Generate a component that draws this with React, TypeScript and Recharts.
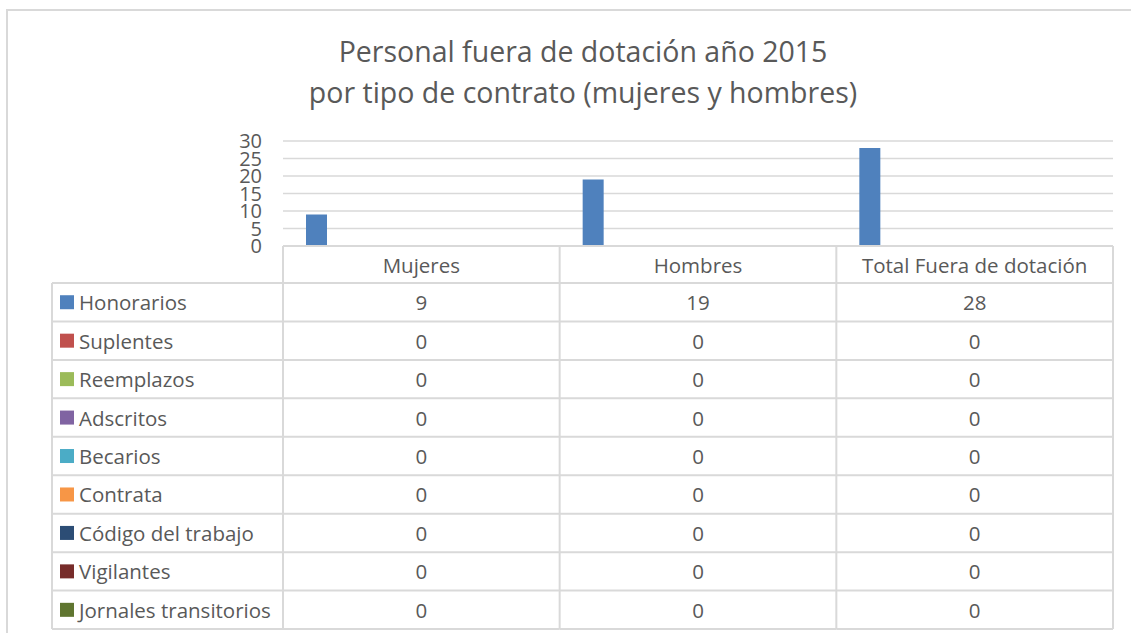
import React from 'react';
import { BarChart, Bar, XAxis, YAxis, CartesianGrid } from 'recharts';

// categories (columns of the data table)
const categories = ['Mujeres', 'Hombres', 'Total Fuera de dotación'];

// series, one per contract type
const seriesNames = [
  'Honorarios',
  'Suplentes',
  'Reemplazos',
  'Adscritos',
  'Becarios',
  'Contrata',
  'Código del trabajo',
  'Vigilantes',
  'Jornales transitorios',
];
const seriesColors = [
  '#4f81bd',
  '#c0504d',
  '#9bbb59',
  '#8064a2',
  '#4bacc6',
  '#f79646',
  '#2c4d75',
  '#772c2a',
  '#5f7530',
];

const honorarios = [9, 19, 28];
const suplentes = [0, 0, 0];
const reemplazos = [0, 0, 0];
const adscritos = [0, 0, 0];
const becarios = [0, 0, 0];
const contrata = [0, 0, 0];
const codigoTrabajo = [0, 0, 0];
const vigilantes = [0, 0, 0];
const jornales = [0, 0, 0];

const seriesValues = [
  honorarios,
  suplentes,
  reemplazos,
  adscritos,
  becarios,
  contrata,
  codigoTrabajo,
  vigilantes,
  jornales,
];

const yTicks = [0, 5, 10, 15, 20, 25, 30];

const data = categories.map((name, i) => {
  const row: Record<string, string | number> = { name };
  seriesNames.forEach((s, k) => {
    row[s] = seriesValues[k][i];
  });
  return row;
});

// layout
const W = 1131;
const H = 633;
const FONT = '"Open Sans", sans-serif';
const TEXT = '#595959';
const LINE = '#d9d9d9';
const margin = { top: 141, right: 18, bottom: 357, left: 223 };
const Y_AXIS_W = 60;
const X_AXIS_H = 30;
const PLOT_W = W - margin.left - Y_AXIS_W - margin.right;
const HEADER_H = 37;
const ROW_H = 38.45;
const LEGEND_W = 231;

function TableTick(props: any) {
  const { x, y, payload, index } = props;
  const colW = PLOT_W / categories.length;
  const left = x - colW / 2;
  const right = x + colW / 2;
  const rowsTop = y + HEADER_H;
  const bottom = rowsTop + ROW_H * seriesNames.length;

  return (
    <g fontFamily={FONT} fontSize={20.5} fill={TEXT}>
      {/* column borders */}
      {index === 0 && <line x1={left} y1={y} x2={left} y2={bottom} stroke={LINE} strokeWidth={2} />}
      <line x1={right} y1={y} x2={right} y2={bottom} stroke={LINE} strokeWidth={2} />
      {seriesNames.map((_, r) => (
        <line
          key={'h' + r}
          x1={index === 0 ? left - LEGEND_W : left}
          y1={rowsTop + r * ROW_H}
          x2={right}
          y2={rowsTop + r * ROW_H}
          stroke={LINE}
          strokeWidth={2}
        />
      ))}
      <line
        x1={index === 0 ? left - LEGEND_W : left}
        y1={bottom}
        x2={right}
        y2={bottom}
        stroke={LINE}
        strokeWidth={2}
      />
      {/* header */}
      <text x={x} y={y + HEADER_H / 2} textAnchor="middle" dominantBaseline="central">
        {payload.value}
      </text>
      {/* values */}
      {seriesValues.map((vals, r) => (
        <text
          key={'v' + r}
          x={x}
          y={rowsTop + r * ROW_H + ROW_H / 2}
          textAnchor="middle"
          dominantBaseline="central"
        >
          {vals[index]}
        </text>
      ))}
      {/* legend column with series keys */}
      {index === 0 && (
        <g>
          <line
            x1={left - LEGEND_W}
            y1={rowsTop}
            x2={left - LEGEND_W}
            y2={bottom}
            stroke={LINE}
            strokeWidth={2}
          />
          {seriesNames.map((s, r) => {
            const cy = rowsTop + r * ROW_H + ROW_H / 2;
            return (
              <g key={'l' + r}>
                <rect x={left - LEGEND_W + 8} y={cy - 7} width={14} height={14} fill={seriesColors[r]} />
                <text x={left - LEGEND_W + 27} y={cy} dominantBaseline="central">
                  {s}
                </text>
              </g>
            );
          })}
        </g>
      )}
    </g>
  );
}

export default function App() {
  return (
    <div
      style={{
        position: 'absolute',
        left: 0,
        top: 0,
        width: W,
        height: H,
        overflow: 'hidden',
        background: '#fff',
        fontFamily: FONT,
      }}
    >
      <div
        style={{
          position: 'absolute',
          left: 6,
          top: 9,
          width: W,
          height: H,
          borderLeft: `2px solid ${LINE}`,
          borderTop: `2px solid ${LINE}`,
        }}
      />
      <div
        style={{
          position: 'absolute',
          left: 0,
          top: 31,
          width: 1166,
          textAlign: 'center',
          color: TEXT,
          fontSize: 28.5,
          lineHeight: '41px',
        }}
      >
        Personal fuera de dotación año 2015
        <br />
        por tipo de contrato (mujeres y hombres)
      </div>
      <div style={{ position: 'absolute', left: 0, top: 0 }}>
        <BarChart
          width={W}
          height={H}
          data={data}
          margin={margin}
          barCategoryGap={23}
          barGap={5}
        >
          <CartesianGrid vertical={false} stroke={LINE} strokeWidth={1.3} />
          <YAxis
            width={Y_AXIS_W}
            domain={[0, 30]}
            ticks={yTicks}
            interval={0}
            axisLine={false}
            tickLine={false}
            tickSize={0}
            tickMargin={21}
            tick={{ fill: TEXT, fontSize: 20, fontFamily: FONT }}
          />
          <XAxis
            dataKey="name"
            height={X_AXIS_H}
            interval={0}
            tickLine={false}
            tickSize={0}
            tickMargin={0}
            axisLine={{ stroke: LINE, strokeWidth: 2 }}
            tick={<TableTick />}
          />
          {seriesNames.map((s, k) => (
            <Bar key={s} dataKey={s} fill={seriesColors[k]} isAnimationActive={false} />
          ))}
        </BarChart>
      </div>
    </div>
  );
}
